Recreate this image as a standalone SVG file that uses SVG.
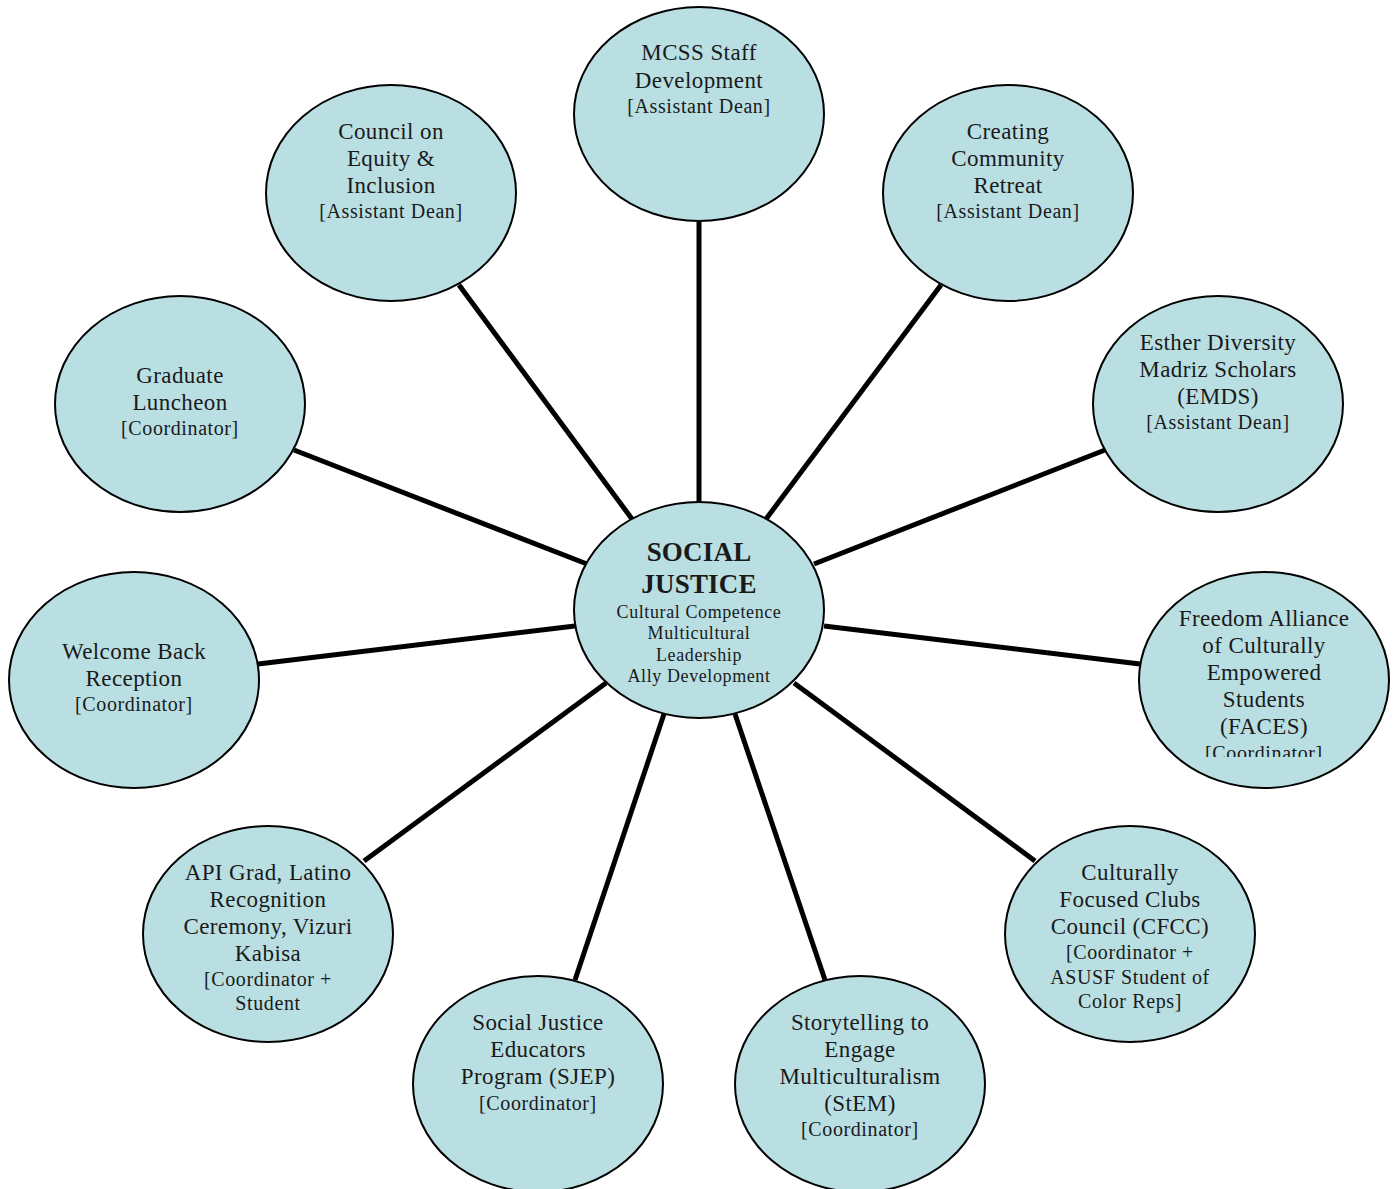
<svg xmlns="http://www.w3.org/2000/svg" width="1398" height="1189" viewBox="0 0 1398 1189">
<style>
.n{fill:#b9dfe3;stroke:#000;stroke-width:2}
.t{font-family:"Liberation Serif",serif;font-size:23px;letter-spacing:0.4px;fill:#1a1a1a;text-anchor:middle}
.s{font-size:20px;letter-spacing:0.6px}
.h{font-size:27px;font-weight:bold;letter-spacing:0.2px}
.c{font-size:18px;letter-spacing:0.6px}
.e{stroke:#000;stroke-width:5;fill:none}
</style>
<defs><clipPath id="fc"><rect x="1100" y="560" width="300" height="197"/></clipPath></defs>
<rect width="1398" height="1189" fill="#fff"/>
<g id="connectors">
<line class="e" x1="699" y1="222" x2="699" y2="502"/>
<line class="e" x1="459" y1="285" x2="632" y2="519"/>
<line class="e" x1="941" y1="285" x2="766" y2="519"/>
<line class="e" x1="294" y1="450" x2="587" y2="564"/>
<line class="e" x1="1105" y1="450" x2="814" y2="564"/>
<line class="e" x1="258" y1="664" x2="575" y2="626"/>
<line class="e" x1="1140" y1="664" x2="824" y2="626"/>
<line class="e" x1="364" y1="861" x2="606" y2="683"/>
<line class="e" x1="1035" y1="861" x2="794" y2="683"/>
<line class="e" x1="575" y1="980" x2="664" y2="714"/>
<line class="e" x1="825" y1="980" x2="735" y2="714"/>
</g>
<g id="center">
<ellipse class="n" cx="699" cy="610" rx="125" ry="108"/>
<text class="t h" x="699" y="561">SOCIAL</text>
<text class="t h" x="699" y="593">JUSTICE</text>
<text class="t c" x="699" y="618">Cultural Competence</text>
<text class="t c" x="699" y="639">Multicultural</text>
<text class="t c" x="699" y="661">Leadership</text>
<text class="t c" x="699" y="682">Ally Development</text>
</g>
<g id="mcss">
<ellipse class="n" cx="699" cy="114" rx="125" ry="107"/>
<text class="t" x="699" y="60">MCSS Staff</text>
<text class="t" x="699" y="88">Development</text>
<text class="t s" x="699" y="113">[Assistant Dean]</text>
</g>
<g id="council">
<ellipse class="n" cx="391" cy="193" rx="125" ry="108"/>
<text class="t" x="391" y="139">Council on</text>
<text class="t" x="391" y="166">Equity &amp;</text>
<text class="t" x="391" y="193">Inclusion</text>
<text class="t s" x="391" y="218">[Assistant Dean]</text>
</g>
<g id="creating">
<ellipse class="n" cx="1008" cy="193" rx="125" ry="108"/>
<text class="t" x="1008" y="139">Creating</text>
<text class="t" x="1008" y="166">Community</text>
<text class="t" x="1008" y="193">Retreat</text>
<text class="t s" x="1008" y="218">[Assistant Dean]</text>
</g>
<g id="graduate">
<ellipse class="n" cx="180" cy="404" rx="125" ry="108"/>
<text class="t" x="180" y="383">Graduate</text>
<text class="t" x="180" y="410">Luncheon</text>
<text class="t s" x="180" y="435">[Coordinator]</text>
</g>
<g id="esther">
<ellipse class="n" cx="1218" cy="404" rx="125" ry="108"/>
<text class="t" x="1218" y="350">Esther Diversity</text>
<text class="t" x="1218" y="377">Madriz Scholars</text>
<text class="t" x="1218" y="404">(EMDS)</text>
<text class="t s" x="1218" y="429">[Assistant Dean]</text>
</g>
<g id="welcome">
<ellipse class="n" cx="134" cy="680" rx="125" ry="108"/>
<text class="t" x="134" y="659">Welcome Back</text>
<text class="t" x="134" y="686">Reception</text>
<text class="t s" x="134" y="711">[Coordinator]</text>
</g>
<g id="faces">
<ellipse class="n" cx="1264" cy="680" rx="125" ry="108"/>
<g clip-path="url(#fc)">
<text class="t" x="1264" y="626">Freedom Alliance</text>
<text class="t" x="1264" y="653">of Culturally</text>
<text class="t" x="1264" y="680">Empowered</text>
<text class="t" x="1264" y="707">Students</text>
<text class="t" x="1264" y="734">(FACES)</text>
<text class="t s" x="1264" y="760">[Coordinator]</text>
</g>
</g>
<g id="api">
<ellipse class="n" cx="268" cy="934" rx="125" ry="108"/>
<text class="t" x="268" y="880">API Grad, Latino</text>
<text class="t" x="268" y="907">Recognition</text>
<text class="t" x="268" y="934">Ceremony, Vizuri</text>
<text class="t" x="268" y="961">Kabisa</text>
<text class="t s" x="268" y="986">[Coordinator +</text>
<text class="t s" x="268" y="1010">Student</text>
</g>
<g id="cfcc">
<ellipse class="n" cx="1130" cy="934" rx="125" ry="108"/>
<text class="t" x="1130" y="880">Culturally</text>
<text class="t" x="1130" y="907">Focused Clubs</text>
<text class="t" x="1130" y="934">Council (CFCC)</text>
<text class="t s" x="1130" y="959">[Coordinator +</text>
<text class="t s" x="1130" y="984">ASUSF Student of</text>
<text class="t s" x="1130" y="1008">Color Reps]</text>
</g>
<g id="sjep">
<ellipse class="n" cx="538" cy="1084" rx="125" ry="108"/>
<text class="t" x="538" y="1030">Social Justice</text>
<text class="t" x="538" y="1057">Educators</text>
<text class="t" x="538" y="1084">Program (SJEP)</text>
<text class="t s" x="538" y="1110">[Coordinator]</text>
</g>
<g id="stem">
<ellipse class="n" cx="860" cy="1084" rx="125" ry="108"/>
<text class="t" x="860" y="1030">Storytelling to</text>
<text class="t" x="860" y="1057">Engage</text>
<text class="t" x="860" y="1084">Multiculturalism</text>
<text class="t" x="860" y="1111">(StEM)</text>
<text class="t s" x="860" y="1136">[Coordinator]</text>
</g>
</svg>
